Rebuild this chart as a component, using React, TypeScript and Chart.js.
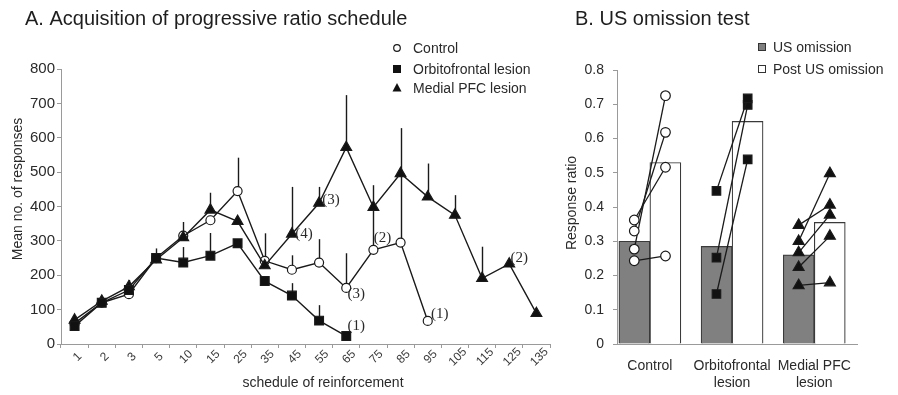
import React, { useEffect, useRef } from 'react';
import { Chart, registerables } from 'chart.js';
Chart.register(...registerables);

// ---------- Panel A data ----------
const schedules = ['1', '2', '3', '5', '10', '15', '25', '35', '45', '55', '65', '75', '85', '95', '105', '115', '125', '135'];
const controlMean = [60, 120, 145, 250, 315, 360, 445, 242, 216, 237, 163, 274, 295, 67];
const controlErrTop = [null, null, null, null, 355, null, 542, 322, 258, 305, 264, 400, 500, null];
const orbitoMean = [52, 120, 157, 250, 237, 257, 293, 183, 141, 68, 23];
const orbitoErrTop = [null, null, null, null, 282, 323, null, null, 177, 113, null];
const medialMean = [70, 125, 167, 245, 310, 390, 357, 228, 320, 410, 572, 398, 496, 428, 375, 191, 233, 89];
const medialErrTop = [null, null, 186, 278, null, 440, null, null, 457, 457, 724, 462, 628, 525, 433, 283, null, null];
const yTicksA = [0, 100, 200, 300, 400, 500, 600, 700, 800];

// n labels next to points: series, index, text
const noteSeries = ['medial', 'medial', 'control', 'orbito', 'control', 'control', 'medial'];
const noteIndex = [8, 9, 10, 10, 11, 13, 16];
const noteText = ['(4)', '(3)', '(3)', '(1)', '(2)', '(1)', '(2)'];
const noteDx = [12, 12, 10, 10, 9, 12, 10];
const noteDy = [0, -3, 6, -10, -12, -7, -6];

// ---------- Panel B data ----------
const groupLabels = [['Control'], ['Orbitofrontal', 'lesion'], ['Medial PFC', 'lesion']];
const usOmission = [0.3, 0.285, 0.26];
const postOmission = [0.53, 0.65, 0.355];
const controlPre = [0.362, 0.33, 0.277, 0.243];
const controlPost = [0.516, 0.618, 0.725, 0.257];
const orbitoPre = [0.447, 0.252, 0.146];
const orbitoPost = [0.717, 0.698, 0.539];
const medialPre = [0.347, 0.3, 0.267, 0.224, 0.171];
const medialPost = [0.406, 0.498, 0.377, 0.315, 0.179];

const SANS = '"Liberation Sans", Arial, sans-serif';
const SERIF = '"Liberation Serif", "Times New Roman", serif';
const TXT = '#2a2a2a';
const AXIS = '#9a9a9a';
const LINE = '#1a1a1a';

const seriesMap: Record<string, number[]> = { control: controlMean, orbito: orbitoMean, medial: medialMean };

const panelAPlugin = {
  id: 'panelA',
  beforeDatasetsDraw(chart: any) {
    const { ctx, scales } = chart;
    const x = scales.x, y = scales.y;
    ctx.save();
    ctx.strokeStyle = LINE;
    ctx.lineWidth = 1.4;
    const sets: [number[], (number | null)[]][] = [
      [controlMean, controlErrTop],
      [orbitoMean, orbitoErrTop],
      [medialMean, medialErrTop],
    ];
    sets.forEach(([m, e]) => {
      e.forEach((top, i) => {
        if (top == null || m[i] == null) return;
        const px = Math.round(x.getPixelForValue(i)) + 0.5;
        ctx.beginPath();
        ctx.moveTo(px, y.getPixelForValue(m[i]));
        ctx.lineTo(px, y.getPixelForValue(top));
        ctx.stroke();
      });
    });
    ctx.restore();
  },
  afterDatasetsDraw(chart: any) {
    const { ctx, scales } = chart;
    const x = scales.x, y = scales.y;
    ctx.save();
    // rotated category labels
    ctx.fillStyle = '#3a3a3a';
    ctx.font = `12px ${SANS}`;
    ctx.textAlign = 'center';
    ctx.textBaseline = 'middle';
    schedules.forEach((s, i) => {
      ctx.save();
      ctx.translate(x.getPixelForValue(i) + 3, y.bottom + 13);
      ctx.rotate(-Math.PI / 4);
      ctx.fillText(s, 0, 0);
      ctx.restore();
    });
    // point count notes
    ctx.fillStyle = TXT;
    ctx.font = `15px ${SERIF}`;
    noteText.forEach((t, k) => {
      const arr = seriesMap[noteSeries[k]];
      const i = noteIndex[k];
      ctx.fillText(t, x.getPixelForValue(i) + noteDx[k], y.getPixelForValue(arr[i]) + noteDy[k]);
    });
    // title
    ctx.textAlign = 'left';
    ctx.textBaseline = 'alphabetic';
    ctx.font = `20px ${SANS}`;
    ctx.fillStyle = '#1e1e1e';
    ctx.fillText('A. Acquisition of progressive ratio schedule', 25, 25);
    // axis titles
    ctx.font = `14px ${SANS}`;
    ctx.fillStyle = TXT;
    ctx.textAlign = 'center';
    ctx.textBaseline = 'middle';
    ctx.fillText('schedule of reinforcement', 323, 383);
    ctx.save();
    ctx.translate(18, 189);
    ctx.rotate(-Math.PI / 2);
    ctx.fillText('Mean no. of responses', 0, 0);
    ctx.restore();
    // legend
    const lx = 397, ly = [48, 69, 88];
    const labels = ['Control', 'Orbitofrontal lesion', 'Medial PFC lesion'];
    ctx.textAlign = 'left';
    ctx.font = `14px ${SANS}`;
    labels.forEach((l, k) => {
      ctx.fillStyle = TXT;
      ctx.fillText(l, 413, ly[k] + 1);
    });
    ctx.lineWidth = 1.2;
    ctx.strokeStyle = LINE;
    ctx.fillStyle = '#fff';
    ctx.beginPath();
    ctx.arc(lx, ly[0], 3.3, 0, Math.PI * 2);
    ctx.fill();
    ctx.stroke();
    ctx.fillStyle = '#111';
    ctx.fillRect(lx - 4, ly[1] - 4, 8, 8);
    ctx.beginPath();
    ctx.moveTo(lx, ly[2] - 5);
    ctx.lineTo(lx + 4.5, ly[2] + 3.5);
    ctx.lineTo(lx - 4.5, ly[2] + 3.5);
    ctx.closePath();
    ctx.fill();
    ctx.restore();
  },
};

const panelBPlugin = {
  id: 'panelB',
  afterDatasetsDraw(chart: any) {
    const { ctx } = chart;
    ctx.save();
    ctx.textAlign = 'left';
    ctx.textBaseline = 'alphabetic';
    ctx.font = `20px ${SANS}`;
    ctx.fillStyle = '#1e1e1e';
    ctx.fillText('B. US omission test', 15, 25);
    ctx.font = `14px ${SANS}`;
    ctx.fillStyle = TXT;
    ctx.textAlign = 'center';
    ctx.textBaseline = 'middle';
    ctx.save();
    ctx.translate(12, 203);
    ctx.rotate(-Math.PI / 2);
    ctx.fillText('Response ratio', 0, 0);
    ctx.restore();
    // legend
    const lx = 202, ly = [47, 69];
    ctx.textAlign = 'left';
    ctx.fillText('US omission', 213, ly[0] + 1);
    ctx.fillText('Post US omission', 213, ly[1] + 1);
    ctx.lineWidth = 1;
    ctx.strokeStyle = '#333';
    ctx.fillStyle = '#7f7f7f';
    ctx.fillRect(lx - 4, ly[0] - 4, 8, 8);
    ctx.strokeRect(lx - 3.5, ly[0] - 3.5, 7, 7);
    ctx.fillStyle = '#fff';
    ctx.fillRect(lx - 4, ly[1] - 4, 8, 8);
    ctx.strokeRect(lx - 3.5, ly[1] - 3.5, 7, 7);
    ctx.restore();
  },
};

const OFF = 0.19;

function subjectSets(pre: number[], post: number[], g: number, style: string, radius: number, fill: string) {
  return pre.map((p, k) => ({
    type: 'line' as const,
    label: `s${g}-${k}`,
    data: [
      { x: g - OFF, y: p },
      { x: g + OFF, y: post[k] },
    ],
    borderColor: LINE,
    borderWidth: 1.3,
    pointStyle: style,
    pointRadius: radius,
    pointBackgroundColor: fill,
    pointBorderColor: LINE,
    pointBorderWidth: 1.2,
    showLine: true,
    fill: false,
    tension: 0,
    order: 0,
  }));
}

export default function App() {
  const refA = useRef<HTMLCanvasElement>(null);
  const refB = useRef<HTMLCanvasElement>(null);

  useEffect(() => {
    document.body.style.margin = '0';
    const lineDs = (label: string, data: number[], style: string, radius: number, fill: string) => ({
      label,
      data,
      borderColor: LINE,
      borderWidth: 1.4,
      pointStyle: style,
      pointRadius: radius,
      pointBackgroundColor: fill,
      pointBorderColor: LINE,
      pointBorderWidth: 1.2,
      tension: 0,
      fill: false,
    });

    const chartA = new Chart(refA.current as HTMLCanvasElement, {
      type: 'line',
      data: {
        labels: schedules,
        datasets: [
          lineDs('Orbitofrontal lesion', orbitoMean, 'rect', 6.2, '#111'),
          lineDs('Medial PFC lesion', medialMean, 'triangle', 6.2, '#111'),
          lineDs('Control', controlMean, 'circle', 4.5, '#fff'),
        ] as any,
      },
      options: {
        responsive: false,
        animation: false,
        events: [],
        layout: { padding: { top: 69, right: 10, left: 0, bottom: 0 } },
        plugins: { legend: { display: false }, tooltip: { enabled: false }, title: { display: false } },
        scales: {
          x: {
            type: 'category',
            offset: true,
            grid: { display: true, drawOnChartArea: false, offset: true, tickLength: 4, color: AXIS },
            border: { color: AXIS, width: 1 },
            ticks: { display: false, autoSkip: false },
            afterFit: (s: any) => {
              s.height = 51;
            },
          },
          y: {
            type: 'linear',
            min: 0,
            max: 800,
            afterBuildTicks: (s: any) => {
              s.ticks = yTicksA.map((v) => ({ value: v }));
            },
            grid: { display: true, drawOnChartArea: false, tickLength: 4, color: AXIS },
            border: { color: AXIS, width: 1 },
            ticks: { color: TXT, padding: 2, font: { family: SANS, size: 15 } },
            afterFit: (s: any) => {
              s.width = 61;
            },
          },
        },
      },
      plugins: [panelAPlugin],
    });

    const chartB = new Chart(refB.current as HTMLCanvasElement, {
      type: 'bar',
      data: {
        datasets: [
          {
            type: 'bar',
            label: 'US omission',
            data: usOmission.map((v, i) => ({ x: i, y: v })),
            backgroundColor: '#808080',
            borderColor: '#3a3a3a',
            borderWidth: 1.2,
            barThickness: 31,
            order: 2,
          },
          {
            type: 'bar',
            label: 'Post US omission',
            data: postOmission.map((v, i) => ({ x: i, y: v })),
            backgroundColor: '#ffffff',
            borderColor: '#3a3a3a',
            borderWidth: 1.2,
            barThickness: 31,
            order: 2,
          },
          ...subjectSets(controlPre, controlPost, 0, 'circle', 4.8, '#fff'),
          ...subjectSets(orbitoPre, orbitoPost, 1, 'rect', 6, '#111'),
          ...subjectSets(medialPre, medialPost, 2, 'triangle', 6.3, '#111'),
        ] as any,
      },
      options: {
        responsive: false,
        animation: false,
        events: [],
        layout: { padding: { top: 70, right: 41, left: 0, bottom: 0 } },
        plugins: { legend: { display: false }, tooltip: { enabled: false }, title: { display: false } },
        scales: {
          x: {
            type: 'linear',
            offset: false,
            min: -0.4,
            max: 2.52,
            afterBuildTicks: (s: any) => {
              s.ticks = groupLabels.map((_, i) => ({ value: i }));
            },
            grid: { display: false },
            border: { color: AXIS, width: 1 },
            ticks: {
              color: TXT,
              padding: 6,
              maxRotation: 0,
              font: { family: SANS, size: 14 },
              callback: (v: any) => groupLabels[Math.round(v)] as any,
            },
            afterFit: (s: any) => {
              s.height = 51;
            },
          },
          y: {
            type: 'linear',
            min: 0,
            max: 0.8,
            ticks: {
              stepSize: 0.1,
              color: TXT,
              padding: 9,
              font: { family: SANS, size: 14 },
              callback: (v: any) => String(Math.round(Number(v) * 10) / 10),
            },
            grid: { display: true, drawOnChartArea: false, tickLength: 4, color: AXIS },
            border: { color: AXIS, width: 1 },
            afterFit: (s: any) => {
              s.width = 57;
            },
          },
        },
      },
      plugins: [panelBPlugin],
    });

    return () => {
      chartA.destroy();
      chartB.destroy();
    };
  }, []);

  return (
    <div style={{ position: 'relative', width: 898, height: 395, background: '#fff', overflow: 'hidden' }}>
      <canvas ref={refA} width={560} height={395} style={{ position: 'absolute', left: 0, top: 0 }} />
      <canvas ref={refB} width={338} height={395} style={{ position: 'absolute', left: 560, top: 0 }} />
    </div>
  );
}
